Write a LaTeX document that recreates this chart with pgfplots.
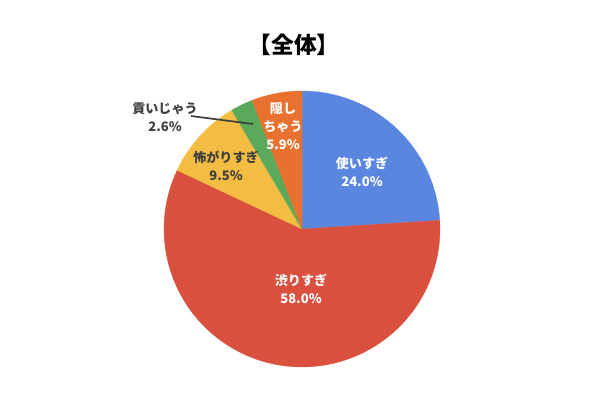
\documentclass[border=0pt]{standalone}
\usepackage{pgfplots}
\pgfplotsset{compat=1.18}
\usepackage{pgfplotstable}
\usepackage{fontspec}
\newfontfamily\cjk{Noto Sans CJK JP}

\definecolor{pblue}{HTML}{5B86E0}
\definecolor{pred}{HTML}{D9503E}
\definecolor{pyellow}{HTML}{F2BD42}
\definecolor{pgreen}{HTML}{5BA95B}
\definecolor{porange}{HTML}{E8712F}
\definecolor{labgray}{HTML}{404040}

% share in percent, clockwise from 12 o'clock
\pgfplotstableread{
value color
24.0 pblue
58.0 pred
9.5 pyellow
2.6 pgreen
5.9 porange
}\piedata

\begin{document}
\begin{tikzpicture}[
    lab/.style={font=\cjk\bfseries\fontsize{9.8}{13.5}\selectfont, align=center},
  ]
\useasboundingbox (0,0) rectangle (450pt,300pt);
\begin{axis}[
    at={(0,0)}, anchor=south west,
    scale only axis,
    width=450pt, height=300pt,
    xmin=0, xmax=600, ymin=0, ymax=400,
    hide axis,
    clip=false,
  ]
  \def\start{90}
  \pgfplotsforeachungrouped \i in {0,...,4}{%
    \pgfplotstablegetelem{\i}{value}\of\piedata \let\val=\pgfplotsretval
    \pgfplotstablegetelem{\i}{color}\of\piedata \let\col=\pgfplotsretval
    \pgfmathsetmacro\stop{\start-3.6*\val}
    \edef\slice{\noexpand\addplot[fill=\col, draw=\col, line width=0.2pt, domain=\stop:\start, samples=90]
      ({302+138*cos(x)},{171+138*sin(x)}) -- (axis cs:302,171) -- cycle;}
    \slice
    \let\start=\stop
  }

  \node[font=\cjk\bfseries\fontsize{17}{19}\selectfont] at (axis cs:294,355) {【全体】};

  \node[lab, text=white] at (axis cs:362,228) {使いすぎ\\24.0\%};
  \node[lab, text=white] at (axis cs:301,111) {渋りすぎ\\58.0\%};
  \node[lab, text=labgray] at (axis cs:226,234) {怖がりすぎ\\9.5\%};
  \node[lab, text=white] at (axis cs:283,274) {隠し\\ちゃう\\5.9\%};
  \node[lab, text=labgray] at (axis cs:165,283) {貢いじゃう\\2.6\%};
  \draw[labgray, line width=1.3pt] (axis cs:191,284) -- (axis cs:253,276);
\end{axis}
\end{tikzpicture}
\end{document}
